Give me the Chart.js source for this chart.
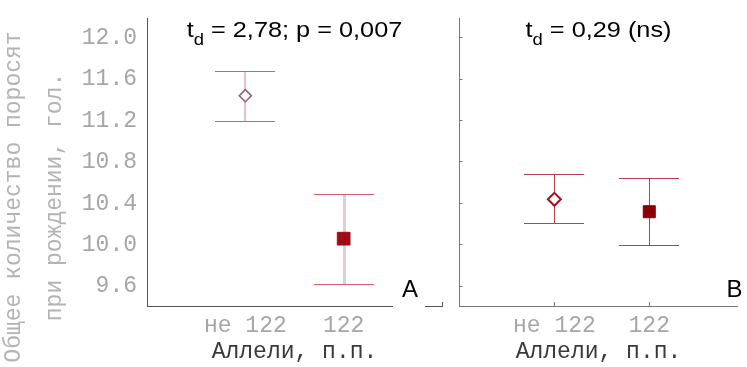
<!DOCTYPE html>
<html><head><meta charset="utf-8">
<script src="https://cdn.jsdelivr.net/npm/chart.js@4/dist/chart.umd.min.js"></script>
<style>
html,body{margin:0;padding:0;background:#fff;}
#wrap{position:relative;width:747px;height:367px;overflow:hidden;background:#fff;}
#cA{position:absolute;left:0;top:0;}
#cB{position:absolute;left:450px;top:0;}
</style></head><body>
<div id="wrap"><canvas id="cA" width="452" height="367"></canvas><canvas id="cB" width="297" height="367"></canvas></div>
<script>
// ---- data ----
const categories = ['не 122', '122'];
const meansA = [11.44, 10.06];
const upperA = [11.68, 10.49];
const lowerA = [11.20, 9.62];
const meansB = [10.44, 10.32];
const upperB = [10.68, 10.65];
const lowerB = [10.21, 10.00];
const yTicks = [9.6, 10.0, 10.4, 10.8, 11.2, 11.6, 12.0];
const yTickLabels = ['9.6', '10.0', '10.4', '10.8', '11.2', '11.6', '12.0'];
const yTitle = ['Общее количество поросят', 'при рождении, гол.'];
const xTitle = 'Аллели, п.п.';
const titleA = ['t', 'd', ' = 2,78; p = 0,007'];
const titleB = ['t', 'd', ' = 0,29 (ns)'];
const panelA = 'A';
const panelB = 'B';

const MONO = '"Liberation Mono", "Courier New", monospace';
const SANS = '"Liberation Sans", Arial, sans-serif';

function errorBars(upper, lower, st) {
  return {
    id: 'errbars',
    beforeDatasetsDraw(chart) {
      const ctx = chart.ctx, xs = chart.scales.x, ys = chart.scales.y;
      ctx.save();
      upper.forEach((u, i) => {
        const px = Math.round(xs.getPixelForValue(i + 1)) + (st.stemW[i] % 2 ? 0.5 : 0);
        const pu = Math.round(ys.getPixelForValue(u)) + 0.5;
        const pl = Math.round(ys.getPixelForValue(lower[i])) + 0.5;
        ctx.strokeStyle = st.stem[i]; ctx.lineWidth = st.stemW[i];
        ctx.beginPath(); ctx.moveTo(px, pu); ctx.lineTo(px, pl); ctx.stroke();
        const cx = Math.round(xs.getPixelForValue(i + 1));
        ctx.strokeStyle = st.cap; ctx.lineWidth = 1;
        ctx.beginPath();
        ctx.moveTo(cx - 30, pu); ctx.lineTo(cx + 30, pu);
        ctx.moveTo(cx - 30, pl); ctx.lineTo(cx + 30, pl);
        ctx.stroke();
      });
      ctx.restore();
    }
  };
}

function decor(title, label, lab) {
  return {
    id: 'decor',
    afterDraw(chart) {
      const ctx = chart.ctx, ca = chart.chartArea;
      ctx.save();
      const big = '22px ' + SANS, small = '16px ' + SANS;
      ctx.font = big; const w0 = ctx.measureText(title[0]).width;
      const w2 = ctx.measureText(title[2]).width;
      ctx.font = small; const w1 = ctx.measureText(title[1]).width;
      const sx = 1.15;
      const total = (w0 + w1 + w2) * sx;
      const cxm = (ca.left + ca.right) / 2 + lab.tdx;
      ctx.translate(cxm - total / 2, 0);
      ctx.scale(sx, 1);
      ctx.fillStyle = '#000'; ctx.textBaseline = 'alphabetic'; ctx.textAlign = 'left';
      ctx.font = big; ctx.fillText(title[0], 0, 37);
      ctx.font = small; ctx.fillText(title[1], w0, 45);
      ctx.font = big; ctx.fillText(title[2], w0 + w1, 37);
      ctx.restore();
      ctx.save();
      if (lab.box) { ctx.fillStyle = '#fff'; ctx.fillRect(lab.box[0], lab.box[1], lab.box[2], lab.box[3]); }
      ctx.font = '24px ' + SANS; ctx.fillStyle = '#000'; ctx.textAlign = 'center'; ctx.textBaseline = 'alphabetic';
      ctx.fillText(label, lab.x, 297);
      ctx.restore();
      if (lab.ytitle) {
        ctx.save();
        ctx.font = '23px ' + MONO; ctx.fillStyle = '#b4b4b4';
        ctx.textAlign = 'center'; ctx.textBaseline = 'middle';
        [14, 55].forEach((x, i) => {
          ctx.save(); ctx.translate(x, 197); ctx.rotate(-Math.PI / 2);
          ctx.fillText(yTitle[i], 0, 0); ctx.restore();
        });
        ctx.restore();
      }
    }
  };
}

function zeroPad(s) { s.paddingTop = 0; s.paddingBottom = 0; s.paddingLeft = 0; s.paddingRight = 0; }

function makeChart(id, means, upper, lower, o) {
  return new Chart(document.getElementById(id), {
    type: 'scatter',
    data: {
      datasets: [
        { label: categories[0], data: [{ x: 1, y: means[0] }], pointStyle: 'rectRot', pointRadius: o.dR, pointHoverRadius: o.dR,
          backgroundColor: '#fff', borderColor: o.dCol, borderWidth: o.dW },
        { label: categories[1], data: [{ x: 2, y: means[1] }], pointStyle: 'rect', pointRadius: o.sR, pointHoverRadius: o.sR,
          backgroundColor: o.sCol, borderColor: o.sCol, borderWidth: 1 }
      ]
    },
    options: {
      responsive: false, animation: false,
      layout: { padding: { left: 0, right: o.padR, top: 18, bottom: 0 } },
      plugins: { legend: { display: false }, tooltip: { enabled: false }, title: { display: false } },
      scales: {
        x: {
          type: 'linear', min: 0, max: o.xMax,
          afterBuildTicks: s => { s.ticks = o.xTickVals.map(v => ({ value: v })); },
          afterFit: s => { s.height = 61; zeroPad(s); },
          ticks: { callback: v => categories[v - 1] ?? '', font: { family: MONO, size: 23 }, color: '#a6a6a6', padding: 10, maxRotation: 0, autoSkip: false },
          grid: { display: true, drawOnChartArea: false, drawTicks: true, tickLength: -4, color: o.xTickColor },
          border: { display: true, color: o.axisCol, width: 1 },
          title: { display: true, text: xTitle, font: { family: MONO, size: 23 }, color: '#3a3a3a', padding: { top: 0, bottom: 1 } }
        },
        y: {
          type: 'linear', min: 9.41, max: 12.19,
          afterBuildTicks: s => { s.ticks = yTicks.map(v => ({ value: v })); },
          afterFit: s => { s.width = o.yW; zeroPad(s); },
          ticks: { display: o.yLabels, callback: (v, i) => yTickLabels[i], font: { family: MONO, size: 23 }, color: '#a6a6a6', padding: 10 },
          grid: { display: o.yGrid, drawOnChartArea: false, drawTicks: o.yGrid, tickLength: -3, color: o.axisCol },
          border: { display: true, color: o.axisCol, width: 1 }
        }
      }
    },
    plugins: [errorBars(upper, lower, o.eb), decor(o.title, o.label, o.lab)]
  });
}

makeChart('cA', meansA, upperA, lowerA, {
  dR: 6, dCol: '#9b5a72', dW: 1.6, sR: 9, sCol: '#a00c16',
  padR: 6, xMax: 3, xTickVals: [1, 2, 3],
  xTickColor: c => (c.tick && c.tick.value === 3) ? '#555' : 'rgba(0,0,0,0)',
  axisCol: '#555', yW: 147, yLabels: true, yGrid: false,
  eb: { stem: ['#e8c2cc', '#ddd0d3'], stemW: [2, 3], cap: '#d5606c' },
  title: titleA, label: panelA,
  lab: { x: 410, box: [393, 268, 32, 42], ytitle: true, tdx: 0 }
});

makeChart('cB', meansB, upperB, lowerB, {
  dR: 6.5, dCol: '#a3101f', dW: 2, sR: 8.5, sCol: '#8a0008',
  padR: 0, xMax: 2.93, xTickVals: [1, 2],
  xTickColor: '#777',
  axisCol: '#777', yW: 4, yLabels: false, yGrid: true,
  eb: { stem: ['#b8404e', '#b8404e'], stemW: [1, 1], cap: '#b8404e' },
  title: titleB, label: panelB,
  lab: { x: 284.5, box: null, ytitle: false, tdx: 0 }
});
</script>
</body></html>
